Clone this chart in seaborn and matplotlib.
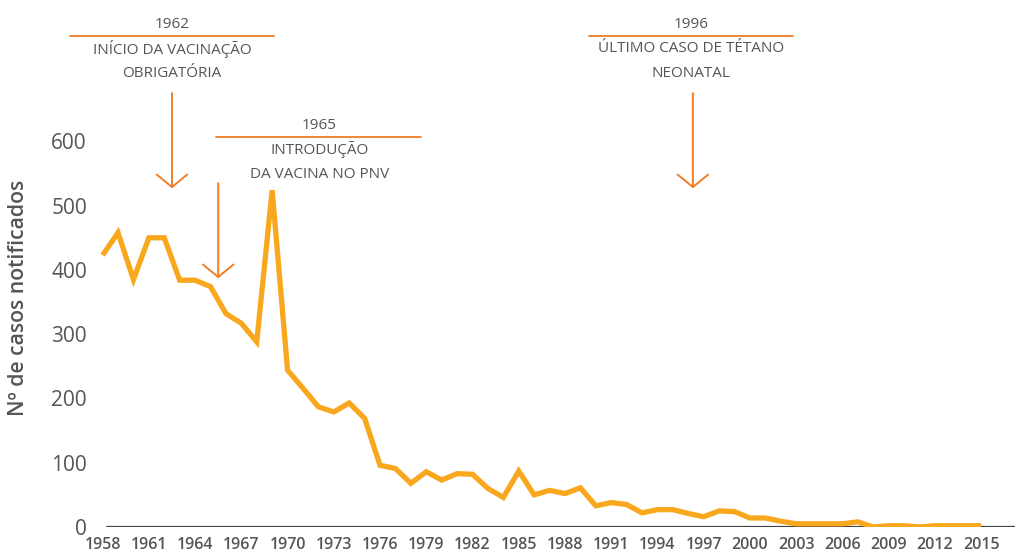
import matplotlib.pyplot as plt
import pandas as pd
import seaborn as sns

# Data
years = list(range(1958, 2016))
cases = [423, 458, 385, 450, 450, 384, 384, 374, 332, 317, 288, 524, 244, 216,
         187, 179, 193, 169, 96, 91, 68, 86, 73, 83, 82, 60, 46, 87, 50, 57,
         52, 61, 33, 38, 35, 22, 27, 27, 21, 16, 25, 24, 14, 14, 9, 5,
         5, 5, 5, 8, 0, 2, 2, 0, 2, 2, 2, 2]
tick_years = list(range(1958, 2016, 3))
y_ticks = [0, 100, 200, 300, 400, 500, 600]

annot_years = ['1962', '1965', '1996']
annot_texts = [['INÍCIO DA VACINAÇÃO', 'OBRIGATÓRIA'],
               ['INTRODUÇÃO', 'DA VACINA NO PNV'],
               ['ÚLTIMO CASO DE TÉTANO', 'NEONATAL']]

df = pd.DataFrame({'ano': years, 'casos': cases})

sns.set_style('white')
plt.rcParams['font.family'] = ['Open Sans', 'DejaVu Sans']

LINE = '#F9A81E'
ARROW = '#F07D28'
GREY = '#555555'

fig = plt.figure(figsize=(10.19, 5.55), dpi=100)
ax = fig.add_axes([98 / 1019, 28 / 555, 917 / 1019, 527 / 555])

sns.lineplot(data=df, x='ano', y='casos', ax=ax, color=LINE, lw=3.8,
             solid_joinstyle='miter', solid_capstyle='butt')

ax.set_xlim(1957.7, 2017.2)
ax.set_ylim(0, 820)
ax.set_xticks(tick_years)
ax.set_xticklabels([str(y) for y in tick_years], fontsize=11.5,
                   fontweight='semibold', color=GREY)
ax.set_yticks(y_ticks)
ax.set_yticklabels([str(v) for v in y_ticks], fontsize=15, color=GREY)
ax.tick_params(axis='both', length=0)
ax.tick_params(axis='x', pad=7)
ax.tick_params(axis='y', pad=8)
ax.set_xlabel('')
ax.set_ylabel('Nº de casos notificados', fontsize=15.3, fontweight='semibold',
              color=GREY)
ax.yaxis.set_label_coords(-0.075, 0.434)

for s in ['top', 'right', 'left', 'bottom']:
    ax.spines[s].set_visible(False)
ax.axhline(0, xmin=0.01, xmax=1, color='#444444', lw=1.6, zorder=1)

# annotation layout: (text x, rule x0, rule x1, arrow x, top y, arrow y0, arrow y1)
layout = [
    (1962.5, 1955.9, 1969.15, 1962.5, 782, 675, 527),
    (1972.06, 1965.37, 1978.63, 1965.5, 625, 535, 387),
    (1996.17, 1989.55, 2002.8, 1996.3, 782, 675, 527),
]
for yr, lines, (tx, x0, x1, axx, ty, ay0, ay1) in zip(annot_years, annot_texts, layout):
    ax.text(tx, ty, yr, ha='center', va='center', fontsize=11, color=GREY,
            clip_on=False)
    ax.plot([x0, x1], [ty - 18, ty - 18], color=ARROW, lw=1.3, clip_on=False)
    for i, line in enumerate(lines):
        ax.text(tx, ty - 38 - 38 * i, line, ha='center', va='center',
                fontsize=11, color=GREY, clip_on=False)
    ax.annotate('', xy=(axx, ay1), xytext=(axx, ay0),
                arrowprops=dict(arrowstyle='->,head_length=0.45,head_width=0.55',
                                color=ARROW, lw=1.4, mutation_scale=20,
                                shrinkA=0, shrinkB=0),
                annotation_clip=False)

fig.savefig('out.png', dpi=100)
